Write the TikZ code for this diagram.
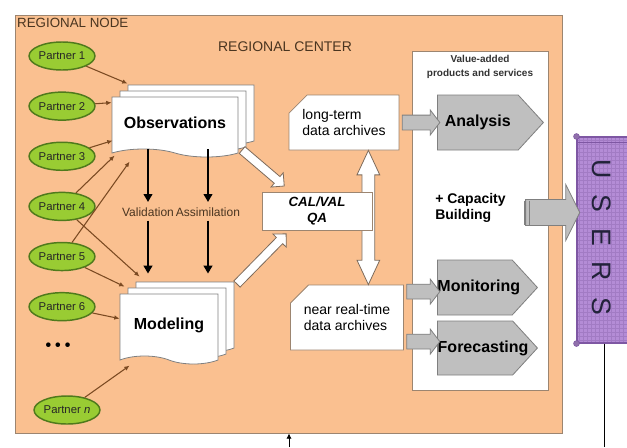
\documentclass[tikz,border=0pt]{standalone}
\usepackage{fontspec}
\setmainfont{Liberation Sans}
\usepackage{tikz}
\usetikzlibrary{positioning,calc,arrows.meta,shapes.geometric,shapes.symbols,shapes.misc,shapes.arrows,shadows}
\usepackage{xcolor}
\definecolor{regorange}{HTML}{FAC090}
\definecolor{regline}{HTML}{9C8570}
\definecolor{partgreen}{HTML}{99CC33}
\definecolor{partedge}{HTML}{4F7A1C}
\definecolor{usrpurple}{HTML}{B48CD6}
\definecolor{usredge}{HTML}{7E57A3}
\definecolor{usrgrid}{HTML}{A27BC4}
\definecolor{usrtext}{HTML}{22223A}
\definecolor{prodgray}{HTML}{BFBFBF}
\definecolor{prodedge}{HTML}{7F7F7F}
\definecolor{linkbrown}{HTML}{7B4A22}
\definecolor{txtbrown}{HTML}{4A3520}

% block arrow laid between two named points
\newcommand\blockarrow[3][]{%
  \path let \p1=($(#3)-(#2)$), \n1={atan2(\y1,\x1)}, \n2={veclen(\x1,\y1)} in
    node[#1, rotate=\n1, minimum height=\n2] at ($(#2)!.5!(#3)$) {};}

\begin{document}
\begin{tikzpicture}[
  x=0.75pt, y=-0.75pt,
  regbox/.style={rectangle, draw=regline, line width=0.6pt, fill=regorange},
  panel/.style={rectangle, draw=regline, line width=0.6pt, fill=white},
  partner/.style={ellipse, draw=partedge, line width=1.1pt, fill=partgreen, minimum width=45pt, minimum height=21pt, inner sep=0pt, font=\fontsize{8.5}{9}\selectfont, text=black!85},
  doc/.style={tape, tape bend top=none, tape bend bottom=out and in, tape bend height=6pt, draw=black!50, fill=white, line width=0.6pt, double copy shadow={shadow xshift=6pt, shadow yshift=4.5pt}, font=\fontsize{12}{14}\selectfont\bfseries},
  archive/.style={chamfered rectangle, chamfered rectangle corners=north west, chamfered rectangle xsep=10pt, draw=regline, fill=white, line width=0.6pt, align=left, inner sep=0pt, font=\fontsize{10.5}{12.5}\selectfont},
  calbox/.style={rectangle, draw=regline, fill=white, line width=0.6pt, align=center, inner sep=0pt, font=\fontsize{10}{12}\selectfont\bfseries\itshape},
  product/.style={signal, signal to=east, signal pointer angle=95, draw=prodedge, fill=prodgray, line width=0.6pt, inner sep=0pt, anchor=west, align=center, font=\fontsize{12}{14}\selectfont\bfseries},
  hollow/.style={single arrow, draw=regline!80!black, fill=white, line width=0.6pt, inner xsep=0pt, inner ysep=3pt, single arrow head extend=3.75pt, single arrow tip angle=90},
  twoway/.style={double arrow, draw=regline!80!black, fill=white, line width=0.6pt, inner xsep=0pt, inner ysep=4.5pt, double arrow head extend=3.75pt, double arrow tip angle=50},
  feedarr/.style={single arrow, draw=prodedge, fill=prodgray, line width=0.6pt, inner xsep=0pt, inner ysep=5.25pt, single arrow head extend=3.75pt, single arrow tip angle=105},
  bigarr/.style={single arrow, draw=prodedge, fill=prodgray, line width=0.6pt, inner xsep=0pt, inner ysep=9.4pt, single arrow head extend=11.25pt, single arrow tip angle=127},
  link/.style={draw=linkbrown, line width=0.8pt, -{Latex[length=4pt, width=3.5pt]}},
  blk/.style={draw=black, line width=1.8pt, -{Triangle[length=6pt, width=6.5pt]}},
  lbl/.style={inner sep=1pt, text=txtbrown}
]
\useasboundingbox (0,0) rectangle (627,447);
\clip (0,0) rectangle (627,447);

% regional node and panel
\node[regbox, minimum width=410.25pt, minimum height=313.5pt] (region) at (288.5,224) {};
\node[lbl, anchor=north west, font=\fontsize{10}{12}\selectfont] (rnode) at ($(region.north west)+(1,2)$) {REGIONAL NODE};
\node[lbl, font=\fontsize{10.5}{12}\selectfont] (rcenter) at (285,47) {REGIONAL CENTER};
\node[panel, minimum width=102pt, minimum height=254.25pt] (panel) at (480,220.5) {};
\node[inner sep=0pt, align=center, font=\fontsize{7.5}{10}\selectfont\bfseries, text=black!80] (vadd) at (480,67) {Value-added\\products and services};

% partners
\node[partner] (p1) at (62,56) {Partner 1};
\node[partner, below=15.5pt of p1] (p2) {Partner 2};
\node[partner, below=15.5pt of p2] (p3) {Partner 3};
\node[partner, below=15.5pt of p3] (p4) {Partner 4};
\node[partner, below=15.5pt of p4] (p5) {Partner 5};
\node[partner, below=15.5pt of p5] (p6) {Partner 6};
\node[font=\fontsize{12}{12}\selectfont\bfseries, inner sep=0pt] (dots) at (58,347) {\textbullet\hspace{3pt}\textbullet\hspace{3pt}\textbullet};
\node[partner] (pn) at (67,410) {Partner \textit{n}};

% documents
\node[doc, minimum width=94.5pt, minimum height=45pt] (obs) at (175,123) {Observations};
\node[doc, minimum width=73.5pt, minimum height=52.5pt] (mod) at (169,325) {Modeling};
\node[lbl, font=\fontsize{9}{10}\selectfont, inner sep=0pt] (val) at (148,212) {Validation};
\node[lbl, font=\fontsize{9}{10}\selectfont, inner sep=0pt] (assim) at (208,212) {Assimilation};

\draw[blk, shorten >=4pt] (val.north |- obs.south) -- (val.north);
\draw[blk, shorten >=4pt] (assim.north |- obs.south) -- (assim.north);
\draw[blk, shorten <=3pt, shorten >=15pt] (val.south) -- (val.south |- mod.north);
\draw[blk, shorten <=3pt, shorten >=15pt] (assim.south) -- (assim.south |- mod.north);

% partner links
\draw[link] (p1) -- ($(obs.north west)+(16,-13)$);
\draw[link] (p2) -- ($(obs.north west)+(0,6)$);
\draw[link] (p3) -- ($(obs.north west)+(1,44)$);
\draw[link] (p4) -- ($(obs.north west)+(3,59)$);
\draw[link] (p5) -- ($(obs.north west)+(18,65)$);
\draw[link] (p4) -- ($(mod.north west)+(20,-17)$);
\draw[link] (p5) -- ($(mod.north west)+(5,-7)$);
\draw[link] (p6) -- ($(mod.north west)+(0,25)$);
\draw[link] (pn) -- ($(mod.north west)+(10,72)$);

% archives and qa
\node[archive, minimum width=79.5pt, minimum height=41.25pt] (lt) at (344,122.5) {long-term\\data archives};
\node[archive, minimum width=75pt, minimum height=48.75pt] (nrt) at (347,317.5) {near real-time\\data archives};
\coordinate (dtop) at ($(lt.south east)+(-31,0)$);
\coordinate (dbot) at (dtop |- nrt.north);
\blockarrow[twoway]{dtop}{dbot}
\node[calbox, minimum width=82.5pt, minimum height=28.5pt] (cal) at (317,211) {CAL/VAL\\QA};

\coordinate (oc1) at ($(obs.north east)+(2,52)$);
\coordinate (oc2) at ($(cal.north west)+(21,-7)$);
\blockarrow[hollow]{oc1}{oc2}
\coordinate (mc1) at ($(mod.north east)+(17,-8)$);
\coordinate (mc2) at ($(cal.south west)+(23,5)$);
\blockarrow[hollow]{mc1}{mc2}

% products
\node[product, text width=60pt, minimum width=79.5pt, minimum height=41.25pt] (ana) at (437,122.5) {Analysis};
\node[product, text width=56pt, minimum width=75pt, minimum height=41.25pt] (mon) at (437,287.5) {Monitoring};
\node[product, text width=56pt, minimum width=75pt, minimum height=40.5pt] (fore) at (437,348) {Forecasting};
\node[anchor=west, align=left, inner sep=0pt, font=\fontsize{10.5}{12.5}\selectfont\bfseries] (capb) at (435,208) {+ Capacity\\Building};

\blockarrow[feedarr]{lt.east}{ana.west}
\coordinate (g1) at ($(nrt.north east)+(0,7)$);
\coordinate (g2) at (g1 -| mon.west);
\blockarrow[feedarr]{g1}{g2}
\coordinate (g3) at ($(nrt.north east)+(0,57)$);
\coordinate (g4) at (g3 -| fore.west);
\blockarrow[feedarr]{g3}{g4}

% users
\node[rectangle, draw=usredge, line width=0.8pt, fill=usrpurple, minimum width=51pt, minimum height=154.5pt,
  path picture={\draw[usrgrid, line width=0.2pt, step=3pt] (path picture bounding box.south west) grid (path picture bounding box.north east);}] (users) at (611,240) {};
\draw[usredge, line width=0.6pt] ($(users.north west)+(0,6)$) -- ($(users.north east)+(0,6)$);
\draw[usredge, fill=usrpurple!80!black] (users.north west) circle (2.2pt);
\draw[usredge, fill=usrpurple!80!black] (users.south west) circle (2.2pt);
\node[rotate=-90, inner sep=0pt, font=\fontsize{20}{20}\selectfont, text=usrtext] (usrlbl) at (602,237) {U\hspace{12pt}S\hspace{12pt}E\hspace{12pt}R\hspace{12pt}S};

\coordinate (capA) at ($(panel.east)+(-26,-8)$);
\coordinate (capB) at (capA -| users.west);
\blockarrow[bigarr]{capA}{capB}
\draw[prodedge, line width=0.5pt] ($(capA)+(2,-12)$) -- ($(capA)+(2,12)$);
\draw[prodedge, line width=0.5pt] ($(capA)+(7,-12)$) -- ($(capA)+(7,12)$);

% outside links
\coordinate (uline) at ($(users.south west)+(28,0)$);
\coordinate (feed) at (289,447);
\coordinate (usrend) at (uline |- feed);
\draw[black, line width=0.9pt] (uline) -- (usrend);
\draw[black, line width=0.7pt, -{Latex[length=4pt, width=4pt]}] (feed) -- (feed |- region.south);
\end{tikzpicture}
\end{document}
